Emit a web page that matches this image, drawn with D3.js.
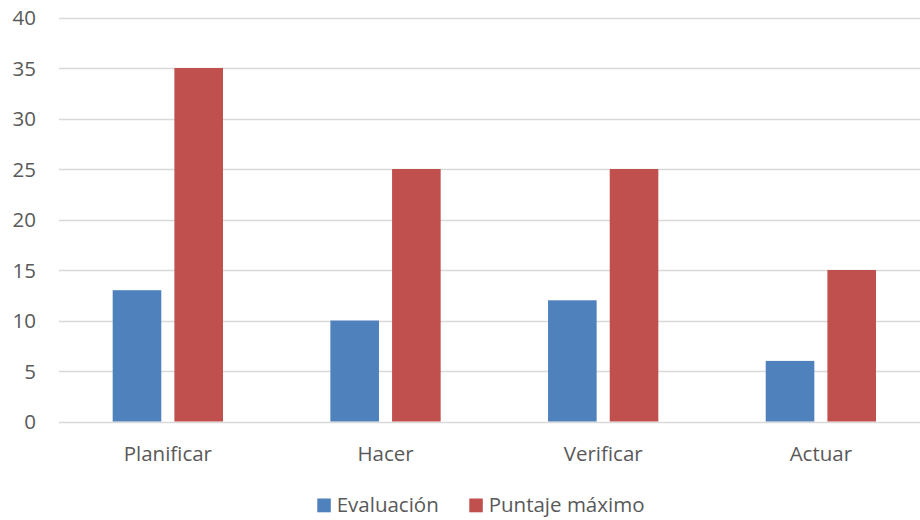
<!DOCTYPE html>
<html>
<head>
<meta charset="utf-8">
<script src="https://cdn.jsdelivr.net/npm/d3@7"></script>
<style>
  html, body { margin: 0; padding: 0; background: #fff; }
  svg { display: block; }
  text { font-family: "Open Sans", Carlito, Calibri, sans-serif; fill: #595959; }
</style>
</head>
<body>
<svg id="chart" width="920" height="520"></svg>
<script>
// PDCA phases and their scores
const categories = ["Planificar", "Hacer", "Verificar", "Actuar"];
const seriesNames = ["Evaluación", "Puntaje máximo"];
const evaluacion = [13, 10, 12, 6];
const puntajeMaximo = [35, 25, 25, 15];
const yTicks = [0, 5, 10, 15, 20, 25, 30, 35, 40];

const colors = ["#4F81BD", "#C0504D"];
const seriesValues = [evaluacion, puntajeMaximo];
const fontSize = 20.5;

const svg = d3.select("#chart");

const plot = { left: 59, right: 929.7, top: 17.5, bottom: 421.5 };

const x0 = d3.scaleBand()
  .domain(categories)
  .range([plot.left, plot.right])
  .paddingInner(0)
  .paddingOuter(0);

const y = d3.scaleLinear()
  .domain([0, 40])
  .range([plot.bottom, plot.top]);

// inner band: two bars per group with a small gap
const groupWidth = 110.3;
const x1 = d3.scaleBand()
  .domain(d3.range(seriesNames.length))
  .range([0, groupWidth])
  .paddingInner(0.212)
  .paddingOuter(0);

// horizontal gridlines
svg.append("g")
  .selectAll("line")
  .data(yTicks)
  .join("line")
  .attr("x1", plot.left)
  .attr("x2", plot.right)
  .attr("y1", d => Math.round(y(d)) + 0.5)
  .attr("y2", d => Math.round(y(d)) + 0.5)
  .attr("stroke", "#D9D9D9")
  .attr("stroke-width", 1.3);

// y tick labels
const yAxis = d3.axisLeft(y).tickValues(yTicks).tickSize(0).tickPadding(0);
const yg = svg.append("g")
  .attr("transform", `translate(${plot.left - 23},0)`)
  .call(yAxis);
yg.select(".domain").remove();
yg.selectAll("text")
  .attr("font-size", fontSize)
  .attr("font-family", null)
  .attr("fill", "#595959")
  .attr("dy", "0.36em");

// bars
const groups = svg.append("g")
  .selectAll("g")
  .data(categories)
  .join("g")
  .attr("transform", c => `translate(${x0(c) + (x0.bandwidth() - groupWidth) / 2},0)`);

groups.selectAll("rect")
  .data((c, i) => seriesValues.map((vals, s) => ({ s, v: vals[i] })))
  .join("rect")
  .attr("x", d => x1(d.s))
  .attr("width", x1.bandwidth())
  .attr("y", d => y(d.v))
  .attr("height", d => y(0) - y(d.v))
  .attr("fill", d => colors[d.s]);

// category labels
const xAxis = d3.axisBottom(x0).tickSize(0).tickPadding(0);
const xg = svg.append("g")
  .attr("transform", `translate(0,${plot.bottom})`)
  .call(xAxis);
xg.select(".domain").remove();
xg.selectAll("text")
  .attr("font-size", fontSize)
  .attr("font-family", null)
  .attr("fill", "#595959")
  .attr("dy", null)
  .attr("y", 39.5);

// legend
const legendItems = [
  { name: seriesNames[0], color: colors[0], x: 317.3 },
  { name: seriesNames[1], color: colors[1], x: 469.3 }
];
const legend = svg.append("g");
const li = legend.selectAll("g")
  .data(legendItems)
  .join("g")
  .attr("transform", d => `translate(${d.x},498.5)`);
li.append("rect")
  .attr("width", 13.5)
  .attr("height", 13.8)
  .attr("fill", d => d.color);
li.append("text")
  .attr("x", 19.4)
  .attr("y", 13.3)
  .attr("font-size", fontSize)
  .text(d => d.name);
</script>
</body>
</html>
